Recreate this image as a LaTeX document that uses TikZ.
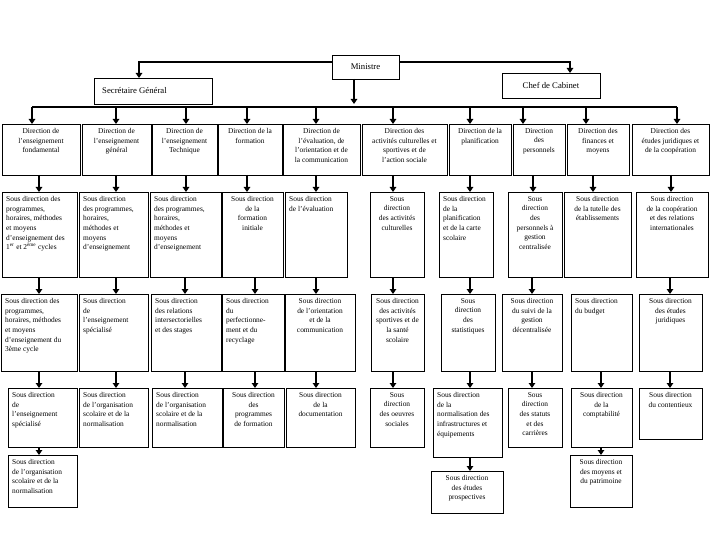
\documentclass[tikz,border=0pt]{standalone}
\usepackage{fontspec}
\setmainfont{Liberation Serif}
\usetikzlibrary{arrows.meta}
\tikzset{
  box/.style={draw, line width=0.9pt, inner sep=0pt, outer sep=0pt},
  txt/.style={inner sep=0pt, font=\fontsize{7.4}{9.7}\selectfont},
  toptxt/.style={inner sep=0pt, font=\fontsize{8.7}{10}\selectfont},
  arr/.style={line width=1.7pt, -{Triangle[length=5pt,width=6.5pt]}},
  bus/.style={line width=1.2pt}
}
% box with centred text: name, x1, y1, x2, y2, text
\newcommand\bxc[6]{%
  \node[box, minimum width={#4-#2}, minimum height={#5-#3}, anchor=north west] (#1) at (#2,#3) {};
  \node[txt, align=center, anchor=north] at ([yshift=-4pt]#1.north) {#6};}
% box with left text
\newcommand\bxl[6]{%
  \node[box, minimum width={#4-#2}, minimum height={#5-#3}, anchor=north west] (#1) at (#2,#3) {};
  \node[txt, align=left, anchor=north west] at ([shift={(4,4)}]#1.north west) {#6};}
% vertical arrow from box to box at abscissa x
\newcommand\ar[3]{%
  \coordinate (tmpx) at (#3,0);
  \draw[arr] (#1.south -| tmpx) -- (#2.north -| tmpx);}
\begin{document}
\begin{tikzpicture}[x=1pt,y=-1pt]
\fill[white] (0,0) rectangle (720,540);
\useasboundingbox (0,0) rectangle (720,540);

% top level
\node[box, minimum width=67, minimum height=24, anchor=north west] (min) at (332,55) {};
\node[toptxt] at (min.center) {Ministre};
\node[box, minimum width=118, minimum height=26, anchor=north west] (sg) at (94,78) {};
\node[toptxt, anchor=west] at ([xshift=8pt]sg.west) {Secrétaire Général};
\node[box, minimum width=98, minimum height=25, anchor=north west] (cab) at (502,73) {};
\node[toptxt] at (cab.center) {Chef de Cabinet};

\coordinate (tl) at (139,62);
\coordinate (tr) at (570,62);
\draw[arr] (min.west |- tl) -| (sg.north -| tl);
\draw[arr] (min.east |- tr) -| (cab.north -| tr);

% directions
\bxc{D1}{2}{124}{80}{175}{Direction de\\l'enseignement\\fondamental}
\bxc{D2}{82}{124}{151}{175}{Direction de\\l'enseignement\\général}
\bxc{D3}{152}{124}{217}{175}{Direction de\\l'enseignement\\Technique}
\bxc{D4}{218}{124}{282}{175}{Direction de la\\formation}
\bxc{D5}{283}{124}{360}{175}{Direction de\\l'évaluation, de\\l'orientation et de\\la communication}
\bxc{D6}{362}{124}{447}{175}{Direction des\\activités culturelles et\\sportives et de\\l'action sociale}
\bxc{D7}{449}{124}{511}{175}{Direction de la\\planification}
\bxc{D8}{513}{124}{565}{175}{Direction\\des\\personnels}
\bxc{D9}{567}{124}{629}{175}{Direction des\\finances et\\moyens}
\bxc{D10}{632}{124}{709}{175}{Direction des\\études juridiques et\\de la coopération}

% bus
\coordinate (busL) at (32,107);
\coordinate (busR) at (677,107);
\coordinate (mx) at (354,104);
\draw[bus] (busL) -- (busR);
\draw[arr] (min.south -| mx) -- (mx);
\foreach \n/\x in {1/32,2/116,3/186,4/247,5/316,6/393,7/470,8/523,9/586,10/677}{
  \coordinate (tmpx) at (\x,107);
  \draw[arr] (tmpx) -- (D\n.north -| tmpx);
}

% row 2
\bxl{A1}{2}{192}{77}{277}{Sous direction des\\programmes,\\horaires, méthodes\\et moyens\\d'enseignement des\\1\textsuperscript{er} et 2\textsuperscript{ème} cycles}
\bxl{A2}{79}{192}{148}{277}{Sous direction\\des programmes,\\horaires,\\méthodes et\\moyens\\d'enseignement}
\bxl{A3}{150}{192}{221}{277}{Sous direction\\des programmes,\\horaires,\\méthodes et\\moyens\\d'enseignement}
\bxc{A4}{222}{192}{283}{277}{Sous direction\\de la\\formation\\initiale}
\bxl{A5}{285}{192}{347}{277}{Sous direction\\de l'évaluation}
\bxc{A6}{370}{192}{424}{277}{Sous\\direction\\des activités\\culturelles}
\bxl{A7}{439}{192}{493}{277}{Sous direction\\de la\\planification\\et de la carte\\scolaire}
\bxc{A8}{508}{192}{562}{277}{Sous\\direction\\des\\personnels à\\gestion\\centralisée}
\bxc{A9}{564}{192}{631}{277}{Sous direction\\de la tutelle des\\établissements}
\bxc{A10}{636}{192}{708}{277}{Sous direction\\de la coopération\\et des relations\\internationales}

\ar{D1}{A1}{39}
\ar{D2}{A2}{116}
\ar{D3}{A3}{186}
\ar{D4}{A4}{247}
\ar{D5}{A5}{316}
\ar{D6}{A6}{393}
\ar{D7}{A7}{470}
\ar{D8}{A8}{533}
\ar{D9}{A9}{593}
\ar{D10}{A10}{671}

% row 3
\bxl{B1}{1}{294}{77}{371}{Sous direction des\\programmes,\\horaires, méthodes\\et moyens\\d'enseignement du\\3ème cycle}
\bxl{B2}{79}{294}{148}{371}{Sous direction\\de\\l'enseignement\\spécialisé}
\bxl{B3}{151}{294}{221}{371}{Sous direction\\des relations\\intersectorielles\\et des stages}
\bxl{B4}{222}{294}{284}{371}{Sous direction\\du\\perfectionne-\\ment et du\\recyclage}
\bxc{B5}{285}{294}{355}{371}{Sous direction\\de l'orientation\\et de la\\communication}
\bxc{B6}{371}{294}{424}{371}{Sous direction\\des activités\\sportives et de\\la santé\\scolaire}
\bxc{B7}{441}{294}{495}{371}{Sous\\direction\\des\\statistiques}
\bxc{B8}{502}{294}{562}{371}{Sous direction\\du suivi de la\\gestion\\décentralisée}
\bxl{B9}{571}{294}{632}{371}{Sous direction\\du budget}
\bxc{B10}{639}{294}{702}{371}{Sous direction\\des études\\juridiques}

\ar{A1}{B1}{39}
\ar{A2}{B2}{116}
\ar{A3}{B3}{185}
\ar{A4}{B4}{255}
\ar{A5}{B5}{316}
\ar{A6}{B6}{393}
\ar{A7}{B7}{470}
\ar{A8}{B8}{532}
\ar{A10}{B10}{670}

% row 4
\bxl{C1}{8}{388}{77}{447}{Sous direction\\de\\l'enseignement\\spécialisé}
\bxl{C2}{79}{388}{148}{447}{Sous direction\\de l'organisation\\scolaire et de la\\normalisation}
\bxl{C3}{152}{388}{222}{447}{Sous direction\\de l'organisation\\scolaire et de la\\normalisation}
\bxc{C4}{223}{388}{284}{447}{Sous direction\\des\\programmes\\de formation}
\bxc{C5}{286}{388}{355}{447}{Sous direction\\de la\\documentation}
\bxc{C6}{370}{388}{424}{447}{Sous\\direction\\des oeuvres\\sociales}
\bxl{C7}{433}{388}{502}{457}{Sous direction\\de la\\normalisation des\\infrastructures et\\équipements}
\bxc{C8}{508}{388}{562}{447}{Sous\\direction\\des statuts\\et des\\carrières}
\bxc{C9}{571}{388}{632}{447}{Sous direction\\de la\\comptabilité}
\bxc{C10}{639}{388}{702}{439}{Sous direction\\du contentieux}

\ar{B1}{C1}{39}
\ar{B2}{C2}{116}
\ar{B3}{C3}{185}
\ar{B4}{C4}{255}
\ar{B5}{C5}{316}
\ar{B6}{C6}{393}
\ar{B7}{C7}{470}
\ar{B8}{C8}{532}
\ar{B9}{C9}{601}
\ar{B10}{C10}{670}

% row 5
\bxl{E1}{8}{455}{77}{507}{Sous direction\\de l'organisation\\scolaire et de la\\normalisation}
\bxc{E7}{431}{471}{503}{513}{Sous direction\\des études\\prospectives}
\bxc{E9}{570}{455}{632}{507}{Sous direction\\des moyens et\\du patrimoine}

\ar{C1}{E1}{39}
\ar{C7}{E7}{470}
\ar{C9}{E9}{601}
\end{tikzpicture}
\end{document}
